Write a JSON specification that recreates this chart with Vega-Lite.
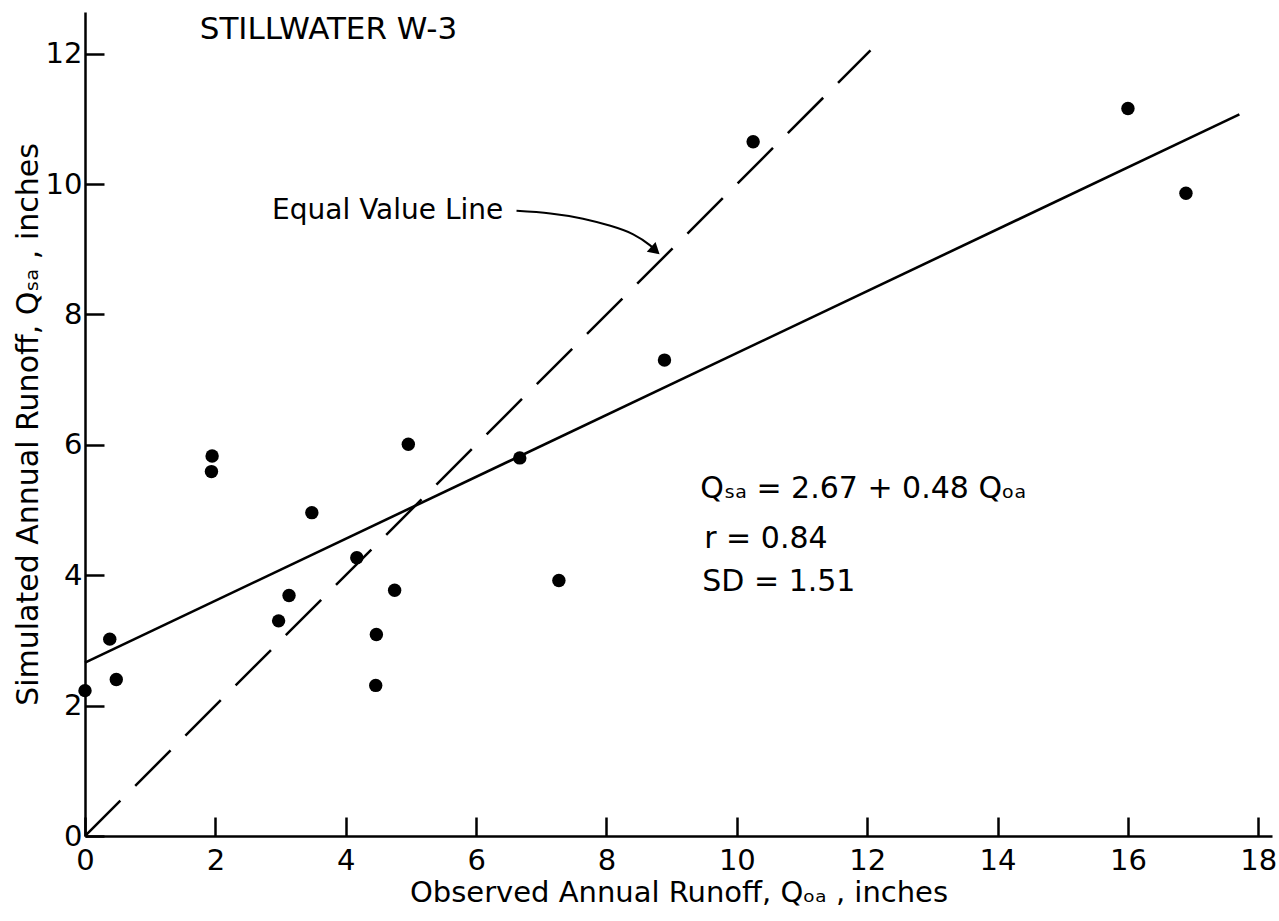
{
  "$schema": "https://vega.github.io/schema/vega-lite/v6.json",
  "width": 1187,
  "height": 824,
  "autosize": {"type": "none"},
  "padding": {"left": 85, "top": 12, "right": 7, "bottom": 85},
  "background": "white",
  "config": {
    "view": {"stroke": null},
    "font": "DejaVu Sans",
    "axis": {
      "grid": false,
      "domainColor": "black",
      "domainWidth": 2.5,
      "tickColor": "black",
      "tickWidth": 2.5,
      "tickSize": -19,
      "labelColor": "black",
      "labelFont": "DejaVu Sans",
      "labelFontSize": 29,
      "labelFlush": false,
      "labelOverlap": false,
      "format": "d",
      "titleFont": "DejaVu Sans",
      "titleFontWeight": "normal",
      "titleColor": "black"
    }
  },
  "datasets": {
    "points": [
      {"obs": 0.0, "sim": 2.23},
      {"obs": 0.38, "sim": 3.02},
      {"obs": 0.48, "sim": 2.40},
      {"obs": 1.95, "sim": 5.83},
      {"obs": 1.94, "sim": 5.59},
      {"obs": 2.97, "sim": 3.30},
      {"obs": 3.13, "sim": 3.69},
      {"obs": 3.48, "sim": 4.96},
      {"obs": 4.17, "sim": 4.27},
      {"obs": 4.47, "sim": 3.09},
      {"obs": 4.46, "sim": 2.31},
      {"obs": 4.75, "sim": 3.77},
      {"obs": 4.96, "sim": 6.01},
      {"obs": 6.67, "sim": 5.80},
      {"obs": 7.27, "sim": 3.92},
      {"obs": 8.89, "sim": 7.30},
      {"obs": 10.25, "sim": 10.65},
      {"obs": 16.0, "sim": 11.16},
      {"obs": 16.89, "sim": 9.86}
    ],
    "regression": [
      {"obs": 0.0, "sim": 2.66},
      {"obs": 17.71, "sim": 11.07}
    ],
    "equal": [
      {"obs": 0.0, "sim": 0.0},
      {"obs": 12.05, "sim": 12.05}
    ],
    "arrow": [
      {"obs": 6.62, "sim": 9.59, "order": 1},
      {"obs": 7.14, "sim": 9.55, "order": 2},
      {"obs": 7.64, "sim": 9.47, "order": 3},
      {"obs": 8.06, "sim": 9.36, "order": 4},
      {"obs": 8.41, "sim": 9.23, "order": 5},
      {"obs": 8.67, "sim": 9.06, "order": 6},
      {"obs": 8.78, "sim": 8.95, "order": 7}
    ],
    "arrowhead": [
      {"obs": 8.75, "sim": 8.98}
    ],
    "title": [
      {"obs": 1.76, "sim": 12.36, "label": "STILLWATER  W-3"}
    ],
    "equalLabel": [
      {"obs": 2.87, "sim": 9.59, "label": "Equal Value Line"}
    ],
    "stats": [
      {"obs": 9.44, "sim": 5.33, "label": "Qₛₐ = 2.67 + 0.48 Qₒₐ"},
      {"obs": 9.50, "sim": 4.55, "label": "r = 0.84"},
      {"obs": 9.47, "sim": 3.90, "label": "SD = 1.51"}
    ]
  },
  "layer": [
    {
      "data": {"name": "equal"},
      "mark": {"type": "line", "color": "black", "strokeWidth": 2.5, "strokeDash": [50, 21], "clip": true},
      "encoding": {
        "x": {
          "field": "obs", "type": "quantitative",
          "scale": {"domain": [0, 18.21], "nice": false, "zero": false},
          "axis": {
            "values": [0, 2, 4, 6, 8, 10, 12, 14, 16, 18],
            "labelPadding": 29,
            "title": "Observed Annual Runoff, Qₒₐ , inches",
            "titleFontSize": 29,
            "titlePadding": 3
          }
        },
        "y": {
          "field": "sim", "type": "quantitative",
          "scale": {"domain": [0, 12.64], "nice": false, "zero": false},
          "axis": {
            "values": [0, 2, 4, 6, 8, 10, 12],
            "labelPadding": 22,
            "title": "Simulated Annual Runoff, Qₛₐ , inches",
            "titleFontSize": 30,
            "titlePadding": 2
          }
        }
      }
    },
    {
      "data": {"name": "regression"},
      "mark": {"type": "line", "color": "black", "strokeWidth": 2.6},
      "encoding": {
        "x": {"field": "obs", "type": "quantitative"},
        "y": {"field": "sim", "type": "quantitative"}
      }
    },
    {
      "data": {"name": "arrow"},
      "mark": {"type": "line", "color": "black", "strokeWidth": 2, "interpolate": "natural"},
      "encoding": {
        "x": {"field": "obs", "type": "quantitative"},
        "y": {"field": "sim", "type": "quantitative"},
        "order": {"field": "order", "type": "quantitative"}
      }
    },
    {
      "data": {"name": "arrowhead"},
      "mark": {"type": "point", "shape": "triangle-right", "filled": true, "color": "black", "opacity": 1, "size": 170, "angle": 42},
      "encoding": {
        "x": {"field": "obs", "type": "quantitative"},
        "y": {"field": "sim", "type": "quantitative"}
      }
    },
    {
      "data": {"name": "points"},
      "mark": {"type": "circle", "color": "black", "opacity": 1, "size": 180},
      "encoding": {
        "x": {"field": "obs", "type": "quantitative"},
        "y": {"field": "sim", "type": "quantitative"}
      }
    },
    {
      "data": {"name": "title"},
      "mark": {"type": "text", "align": "left", "baseline": "middle", "fontSize": 31, "color": "black"},
      "encoding": {
        "x": {"field": "obs", "type": "quantitative"},
        "y": {"field": "sim", "type": "quantitative"},
        "text": {"field": "label"}
      }
    },
    {
      "data": {"name": "equalLabel"},
      "mark": {"type": "text", "align": "left", "baseline": "middle", "fontSize": 28, "color": "black"},
      "encoding": {
        "x": {"field": "obs", "type": "quantitative"},
        "y": {"field": "sim", "type": "quantitative"},
        "text": {"field": "label"}
      }
    },
    {
      "data": {"name": "stats"},
      "mark": {"type": "text", "align": "left", "baseline": "middle", "fontSize": 30, "color": "black"},
      "encoding": {
        "x": {"field": "obs", "type": "quantitative"},
        "y": {"field": "sim", "type": "quantitative"},
        "text": {"field": "label"}
      }
    }
  ]
}
